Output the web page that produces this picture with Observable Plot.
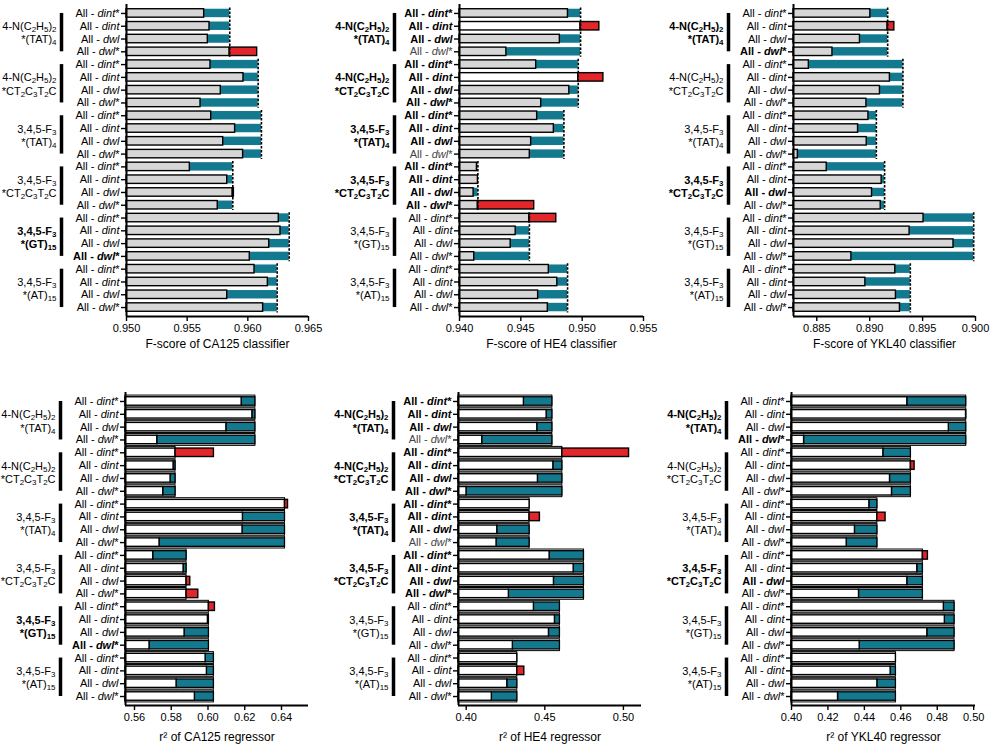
<!DOCTYPE html>
<html><head><meta charset="utf-8">
<script src="https://cdn.jsdelivr.net/npm/d3@7"></script>
<script src="https://cdn.jsdelivr.net/npm/@observablehq/plot@0.6"></script>
<style>
body{margin:0;background:#fff;}
#wrap{position:relative;width:992px;height:749px;overflow:hidden;background:#fff;}
#wrap > div{position:absolute;}
</style></head><body><div id="wrap"></div>
<script>
// ---- labels ----
const groupLabels = [
  "4-N(C_{2}H_{5})_{2}\n*(TAT)_{4}",
  "4-N(C_{2}H_{5})_{2}\n*CT_{2}C_{3}T_{2}C",
  "3,4,5-F_{3}\n*(TAT)_{4}",
  "3,4,5-F_{3}\n*CT_{2}C_{3}T_{2}C",
  "3,4,5-F_{3}\n*(GT)_{15}",
  "3,4,5-F_{3}\n*(AT)_{15}"
];
const barLabels = ["All - ~dint~*", "All - ~dint~", "All - ~dwl~", "All - ~dwl~*"];

// ---- F-score of CA125 classifier ----
const ca125F_ref = [0.95851, 0.96085, 0.96112, 0.95876, 0.96341, 0.96242];
const ca125F_val = [0.9564, 0.95684, 0.9567, 0.96077,
                    0.95692, 0.95964, 0.95777, 0.9561,
                    0.95698, 0.95895, 0.95797, 0.95961,
                    0.95522, 0.9583, 0.95885, 0.95752,
                    0.96255, 0.96269, 0.96176, 0.96016,
                    0.96055, 0.96165, 0.9583, 0.96126];
const ca125F_ticks = [0.950, 0.955, 0.960, 0.965];

// ---- F-score of HE4 classifier ----
const he4F_ref = [0.94987, 0.94968, 0.94851, 0.94150, 0.94570, 0.94881];
const he4F_val = [0.94884, 0.95140, 0.94818, 0.94382,
                  0.94625, 0.95173, 0.94895, 0.94666,
                  0.94633, 0.94769, 0.94584, 0.94573,
                  0.94142, 0.94150, 0.94115, 0.94609,
                  0.94789, 0.94458, 0.94417, 0.9412,
                  0.94728, 0.94797, 0.94641, 0.9472];
const he4F_ticks = [0.940, 0.945, 0.950, 0.955];
const he4F_whiteRows = [1, 5];

// ---- F-score of YKL40 classifier ----
const ykl40F_ref = [0.89170, 0.89314, 0.89063, 0.89141, 0.89983, 0.89384];
const ykl40F_val = [0.89006, 0.89233, 0.88908, 0.88648,
                    0.88425, 0.89191, 0.89097, 0.88969,
                    0.88988, 0.88890, 0.88972, 0.88321,
                    0.88594, 0.89113, 0.89022, 0.89104,
                    0.89509, 0.89377, 0.89792, 0.88827,
                    0.89242, 0.88959, 0.89248, 0.89286];
const ykl40F_ticks = [0.885, 0.890, 0.895, 0.900];

// ---- r2 of CA125 regressor ----
const ca125R_ref = [0.62578, 0.58234, 0.64191, 0.58834, 0.6005, 0.60322];
const ca125R_val = [0.61832, 0.62414, 0.61, 0.57237,
                    0.60322, 0.58125, 0.57962, 0.57562,
                    0.64354, 0.619, 0.6188, 0.57362,
                    0.57017, 0.58671, 0.59035, 0.59471,
                    0.60377, 0.59995, 0.58725, 0.56817,
                    0.5987, 0.5994, 0.58289, 0.59286];
const ca125R_ticks = [0.56, 0.58, 0.60, 0.62, 0.64];

// ---- r2 of HE4 regressor ----
const he4R_ref = [0.4548, 0.46115, 0.44032, 0.47491, 0.45962, 0.43249];
const he4R_val = [0.43669, 0.45115, 0.44522, 0.41019,
                  0.50358, 0.45542, 0.44561, 0.40019,
                  0.44032, 0.44688, 0.41975, 0.4193,
                  0.45306, 0.46835, 0.4558, 0.42713,
                  0.44306, 0.45644, 0.45262, 0.42968,
                  0.43249, 0.43695, 0.42612, 0.41631];
const he4R_ticks = [0.40, 0.45, 0.50];

// ---- r2 of YKL40 regressor ----
const ykl40R_ref = [0.4959, 0.46554, 0.44713, 0.47213, 0.48949, 0.45732];
const ykl40R_val = [0.46356, 0.4958, 0.48637, 0.4069,
                    0.45041, 0.46757, 0.45406, 0.45515,
                    0.44274, 0.45164, 0.43482, 0.4303,
                    0.47487, 0.46904, 0.46356, 0.43705,
                    0.48363, 0.48418, 0.47454, 0.43743,
                    0.45732, 0.45441, 0.44713, 0.42554];
const ykl40R_ticks = [0.40, 0.42, 0.44, 0.46, 0.48, 0.50];

const TEAL = "#12798e", RED = "#e3262a", GREY = "#d6d6d6";
const FONT = "'Liberation Sans', Arial, sans-serif";

const panels = [
  {left: 0,   top: 0,   width: 330, height: 360, ml: 126, mr: 22, domain: [0.950, 0.965], ticks: ca125F_ticks, fmt: ".3f", title: "F-score of CA125 classifier", ref: ca125F_ref, val: ca125F_val, boldGroups: [4], boldBars: [19], kind: "F"},
  {left: 330, top: 0,   width: 330, height: 360, ml: 129, mr: 17, domain: [0.940, 0.955], ticks: he4F_ticks, fmt: ".3f", title: "F-score of HE4 classifier", ref: he4F_ref, val: he4F_val, boldGroups: [0,1,2,3], boldBars: [0,1,2,4,5,6,7,8,9,10,12,13,14,15], dimBars: [3, 11], whiteRows: he4F_whiteRows, kind: "F"},
  {left: 660, top: 0,   width: 332, height: 360, ml: 133, mr: 17, domain: [0.8828, 0.900], ticks: ykl40F_ticks, fmt: ".3f", title: "F-score of YKL40 classifier", ref: ykl40F_ref, val: ykl40F_val, boldGroups: [0,3], boldBars: [3,14], kind: "F"},
  {left: 0,   top: 388, width: 330, height: 361, ml: 125, mr: 22, domain: [0.5551, 0.6547], ticks: ca125R_ticks, fmt: ".2f", title: "r² of CA125 regressor", ref: ca125R_ref, val: ca125R_val, boldGroups: [4], boldBars: [19], kind: "R"},
  {left: 330, top: 388, width: 330, height: 361, ml: 128, mr: 19, domain: [0.3951, 0.5115], ticks: he4R_ticks, fmt: ".2f", title: "r² of HE4 regressor", ref: he4R_ref, val: he4R_val, boldGroups: [0,1,2,3], boldBars: [0,1,2,4,5,6,7,8,9,10,12,13,14,15], dimBars: [3, 11], kind: "R"},
  {left: 660, top: 388, width: 332, height: 361, ml: 131, mr: 17, domain: [0.40, 0.501], ticks: ykl40R_ticks, fmt: ".2f", title: "r² of YKL40 regressor", ref: ykl40R_ref, val: ykl40R_val, boldGroups: [0,3], boldBars: [3,14], kind: "R"}
];

function rich(s) {
  let out = "", italic = false, buf = "", i = 0;
  const flush = () => { if (buf) { out += italic ? `<tspan font-style="italic">${buf}</tspan>` : buf; buf = ""; } };
  while (i < s.length) {
    const c = s[i];
    if (c === "~") { flush(); italic = !italic; i++; }
    else if (c === "_" && s[i + 1] === "{") {
      flush();
      const j = s.indexOf("}", i);
      out += `<tspan baseline-shift="-2" font-size="72%">${s.slice(i + 2, j)}</tspan>`;
      i = j + 1;
    } else { buf += c; i++; }
  }
  flush();
  return out;
}

function panel(cfg) {
  const x0 = cfg.domain[0];
  const top = cfg.kind === "F";
  const rows = cfg.val.map((v, i) => {
    const g = Math.floor(i / 4);
    return {i, g, v, r: cfg.ref[g], label: barLabels[i % 4],
      bold: cfg.boldBars.includes(i), dim: (cfg.dimBars || []).includes(i),
      white: (cfg.whiteRows || []).includes(i)};
  });
  const grp = cfg.ref.map((r, g) => ({g, r, label: groupLabels[g], bold: cfg.boldGroups.includes(g)}));
  const h = 0.33;
  const marks = [];
  if (!top) {
    marks.push(Plot.rectX(rows, {x1: () => x0, x2: d => d.r, y1: d => d.i - 0.46, y2: d => d.i + 0.46, fill: "white", stroke: "black", strokeWidth: 1}));
  }
  marks.push(Plot.rectX(rows.filter(d => d.v < d.r), {x1: d => d.v, x2: d => d.r, y1: d => d.i - h, y2: d => d.i + h, fill: TEAL, stroke: top ? "none" : "black", strokeWidth: 1.3}));
  marks.push(Plot.rectX(rows.filter(d => top && !d.white), {x1: () => x0, x2: d => Math.min(d.v, d.r), y1: d => d.i - h, y2: d => d.i + h, fill: GREY, stroke: "black", strokeWidth: 1.4}));
  marks.push(Plot.rectX(rows.filter(d => !top || d.white), {x1: () => x0, x2: d => Math.min(d.v, d.r), y1: d => d.i - h, y2: d => d.i + h, fill: "white", stroke: "black", strokeWidth: 1.4}));
  marks.push(Plot.rectX(rows.filter(d => d.v > d.r), {x1: d => d.r, x2: d => d.v, y1: d => d.i - h, y2: d => d.i + h, fill: RED, stroke: "black", strokeWidth: 1.4}));
  if (top) {
    marks.push(Plot.ruleX(grp, {x: d => d.r, y1: d => d.g * 4 - 0.42, y2: d => d.g * 4 + 3.42, stroke: "black", strokeWidth: 1.6, strokeDasharray: "2.5,1.5"}));
  }
  // axes
  marks.push(Plot.ruleX([x0], {x: d => d, stroke: "black", strokeWidth: 2}));
  marks.push(Plot.ruleY([23.7], {y: d => d, stroke: "black", strokeWidth: 2}));
  marks.push(Plot.axisY(d3.range(24), {tickSize: 5, tickFormat: () => "", strokeWidth: 1.4}));
  marks.push(Plot.axisX(cfg.ticks, {tickSize: 5, tickFormat: d3.format(cfg.fmt), fontSize: 11, tickPadding: 3, strokeWidth: 1.4, fill: "black"}));
  marks.push(Plot.text([cfg.title], {frameAnchor: "bottom", text: d => d, dy: top ? 31 : 35, fontSize: 12, fill: "black"}));
  // bar labels
  marks.push(Plot.text(rows.filter(d => !d.bold), {x: () => x0, y: d => d.i, text: d => d.label, dx: -7, textAnchor: "end", fontSize: 11, fill: d => d.dim ? "#444" : "black"}));
  marks.push(Plot.text(rows.filter(d => d.bold), {x: () => x0, y: d => d.i, text: d => d.label, dx: -7, textAnchor: "end", fontSize: 11, fontWeight: "bold", fill: "black"}));
  // group brackets and labels
  marks.push(Plot.ruleX(grp, {x: () => x0, y1: d => d.g * 4, y2: d => d.g * 4 + 3, dx: -65, stroke: "black", strokeWidth: 3.5}));
  marks.push(Plot.text(grp.filter(d => !d.bold), {x: () => x0, y: d => d.g * 4 + 1.5, text: d => d.label, dx: -70, textAnchor: "end", lineHeight: 1.2, fontSize: 11, fill: "black"}));
  marks.push(Plot.text(grp.filter(d => d.bold), {x: () => x0, y: d => d.g * 4 + 1.5, text: d => d.label, dx: -70, textAnchor: "end", lineHeight: 1.2, fontSize: 11, fontWeight: "bold", fill: "black"}));

  const svg = Plot.plot({
    width: cfg.width, height: cfg.height,
    marginLeft: cfg.ml, marginRight: cfg.mr, marginTop: 4, marginBottom: 44,
    style: {fontFamily: FONT, fontSize: "11px", background: "white", overflow: "visible", color: "black"},
    x: {domain: cfg.domain, label: null},
    y: {domain: [-0.7, 23.7], reverse: true, label: null, axis: null},
    marks
  });
  svg.querySelectorAll("text, tspan").forEach(node => {
    if (node.childElementCount === 0 && /[~_]/.test(node.textContent)) node.innerHTML = rich(node.textContent);
  });
  const div = document.createElement("div");
  div.style.left = cfg.left + "px";
  div.style.top = cfg.top + "px";
  div.style.width = cfg.width + "px";
  div.style.height = cfg.height + "px";
  div.appendChild(svg);
  document.getElementById("wrap").appendChild(div);
}
panels.forEach(panel);
</script>
</body></html>
